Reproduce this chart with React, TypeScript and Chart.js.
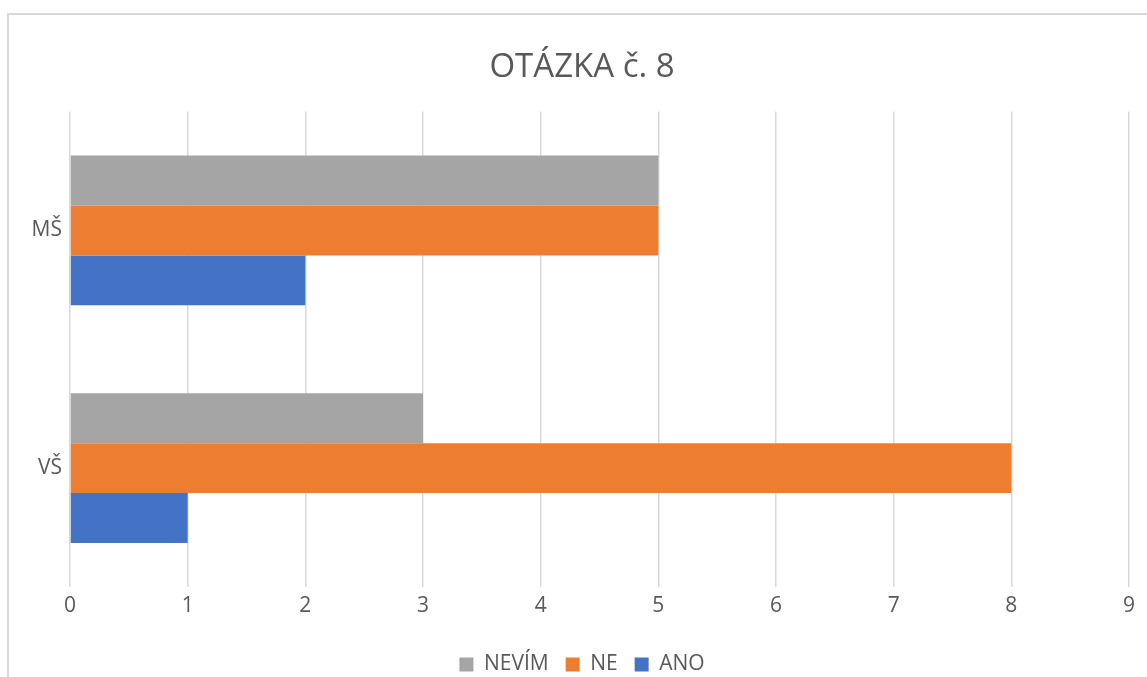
import React, { useEffect, useRef } from "react";
import { Chart, registerables } from "chart.js";

Chart.register(...registerables);

const categories = ["MŠ", "VŠ"];
const seriesNames = ["NEVÍM", "NE", "ANO"];
const nevimValues = [5, 3];
const neValues = [5, 8];
const anoValues = [2, 1];
const xTicks = [0, 1, 2, 3, 4, 5, 6, 7, 8, 9];
const titleText = "OTÁZKA č. 8";

const COLORS = ["#A5A5A5", "#ED7D31", "#4472C4"];
const TEXT = "#595959";
const FONT = "'Open Sans', 'Noto Sans', sans-serif";

export default function App() {
  const ref = useRef<HTMLCanvasElement | null>(null);

  useEffect(() => {
    if (!ref.current) return;
    const values = [nevimValues, neValues, anoValues];
    const chart = new Chart(ref.current, {
      type: "bar",
      data: {
        labels: categories,
        datasets: seriesNames.map((name, i) => ({
          label: name,
          data: values[i],
          backgroundColor: COLORS[i],
          borderWidth: 0,
          categoryPercentage: 0.63,
          barPercentage: 1,
        })),
      },
      options: {
        indexAxis: "y",
        responsive: false,
        animation: false,
        devicePixelRatio: 1,
        layout: { padding: { left: 17, right: 0, top: 0, bottom: 0 } },
        plugins: {
          title: {
            display: true,
            text: titleText,
            color: TEXT,
            font: { family: FONT, size: 33, weight: "normal", lineHeight: 1.2 },
            padding: { top: 48, bottom: 24 },
          },
          legend: {
            position: "bottom",
            maxHeight: 40,
            labels: {
              color: TEXT,
              font: { family: FONT, size: 21 },
              boxWidth: 14,
              boxHeight: 14,
              padding: 17,
            },
          },
          tooltip: { enabled: false },
        },
        scales: {
          x: {
            min: 0,
            max: 9,
            afterBuildTicks: (scale: any) => {
              scale.ticks = xTicks.map((v) => ({ value: v }));
            },
            ticks: {
              color: TEXT,
              font: { family: FONT, size: 21 },
              padding: 6,
            },
            grid: {
              color: "#d9d9d9",
              lineWidth: 1.5,
              drawTicks: false,
            },
            border: { display: false },
            afterFit: (scale: any) => {
              scale.height = 50;
            },
          },
          y: {
            ticks: {
              color: TEXT,
              font: { family: FONT, size: 21 },
              padding: 8,
            },
            grid: { display: false, drawTicks: false },
            border: { display: false },
            afterFit: (scale: any) => {
              scale.width = 53;
            },
          },
          yRight: {
            type: "category",
            position: "right",
            display: true,
            ticks: { display: false },
            grid: { display: false, drawTicks: false },
            border: { display: false },
            afterFit: (scale: any) => {
              scale.width = 18;
            },
          },
        },
      },
    });
    return () => chart.destroy();
  }, []);

  return (
    <div
      style={{
        position: "fixed",
        left: 0,
        top: 0,
        width: 1147,
        height: 677,
        overflow: "hidden",
        background: "#ffffff",
      }}
    >
      <div
        style={{
          position: "absolute",
          left: 7,
          top: 13,
          width: 2000,
          height: 2000,
          borderTop: "2px solid #d9d9d9",
          borderLeft: "2px solid #d9d9d9",
        }}
      />
      <canvas
        ref={ref}
        width={1147}
        height={677}
        style={{ position: "absolute", left: 0, top: 0, width: 1147, height: 677 }}
      />
    </div>
  );
}
